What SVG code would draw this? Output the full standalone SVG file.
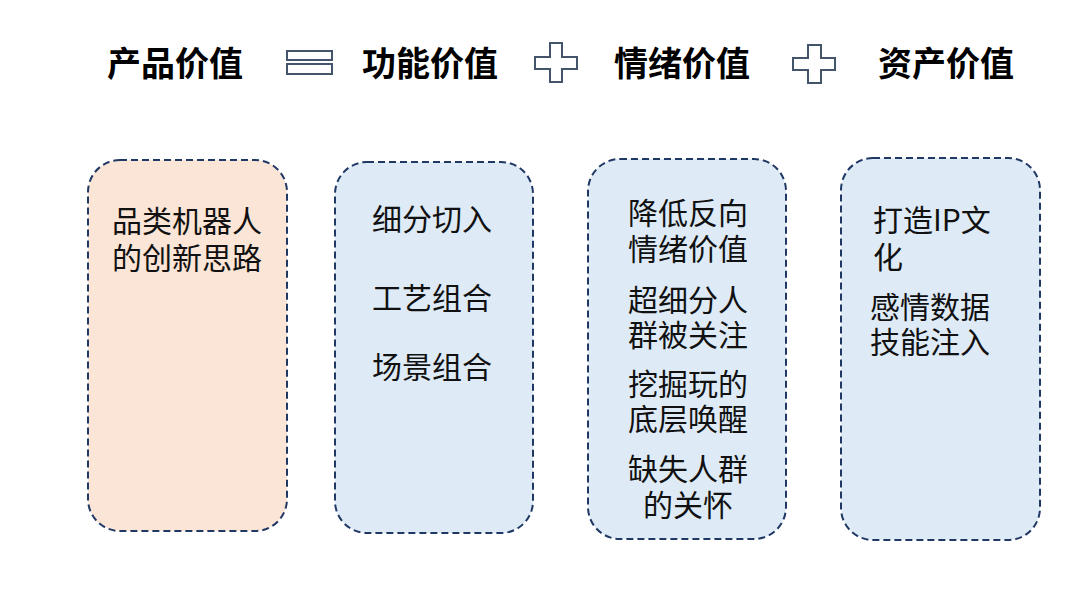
<svg xmlns="http://www.w3.org/2000/svg" width="1080" height="603" viewBox="0 0 1080 603">
<style>
.h{font-family:"Noto Sans CJK SC","Liberation Sans",sans-serif;font-size:34px;font-weight:bold;fill:#000;text-anchor:middle}
.t{font-family:"Noto Sans CJK SC","Liberation Sans",sans-serif;font-size:30px;fill:#111;text-anchor:middle}
.l{text-anchor:start}
.box{stroke:#203864;stroke-width:2;stroke-dasharray:7 4}
.op{fill:#fff;stroke:#44546A;stroke-width:2}
</style>
<rect width="1080" height="603" fill="#fff"/>
<g id="header">
<text class="h" x="175" y="76">产品价值</text>
<text class="h" x="430" y="76">功能价值</text>
<text class="h" x="682" y="76">情绪价值</text>
<text class="h" x="946" y="76">资产价值</text>
</g>
<g id="equals">
<rect class="op" x="287" y="51" width="45" height="9"/>
<rect class="op" x="287" y="64" width="45" height="10"/>
</g>
<g id="plus1">
<path class="op" d="M550,43 H562 V57 H577 V69 H562 V82 H550 V69 H535 V57 H550 Z"/>
</g>
<g id="plus2">
<path class="op" d="M808,45 H821 V58 H835 V70 H821 V83 H808 V70 H793 V58 H808 Z"/>
</g>
<g id="box1">
<rect class="box" x="88" y="160" width="199" height="371" rx="32" fill="#FBE5D6"/>
<text class="t" x="187" y="232">品类机器人</text>
<text class="t" x="187" y="269">的创新思路</text>
</g>
<g id="box2">
<rect class="box" x="335" y="162" width="198" height="371" rx="32" fill="#DEEBF7"/>
<text class="t" x="432" y="230">细分切入</text>
<text class="t" x="432" y="309">工艺组合</text>
<text class="t" x="432" y="378">场景组合</text>
</g>
<g id="box3">
<rect class="box" x="588" y="159" width="198" height="380" rx="32" fill="#DEEBF7"/>
<text class="t" x="688" y="224">降低反向</text>
<text class="t" x="688" y="260">情绪价值</text>
<text class="t" x="688" y="311">超细分人</text>
<text class="t" x="688" y="346">群被关注</text>
<text class="t" x="688" y="395">挖掘玩的</text>
<text class="t" x="688" y="430">底层唤醒</text>
<text class="t" x="688" y="480">缺失人群</text>
<text class="t" x="688" y="516">的关怀</text>
</g>
<g id="box4">
<rect class="box" x="841" y="158" width="199" height="382" rx="32" fill="#DEEBF7"/>
<text class="t l" x="873" y="231">打造IP文</text>
<text class="t l" x="873" y="268">化</text>
<text class="t l" x="870" y="318">感情数据</text>
<text class="t l" x="870" y="353">技能注入</text>
</g>
<g id="connectors"></g>
</svg>
